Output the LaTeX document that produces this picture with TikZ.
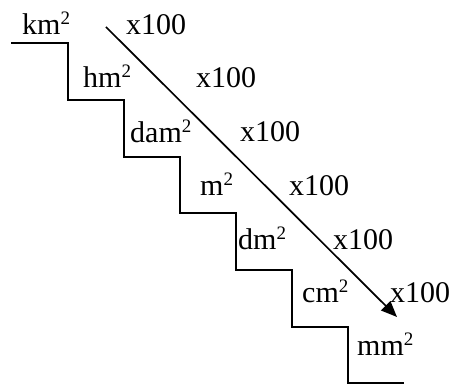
\documentclass[tikz,border=0pt]{standalone}
\usepackage{fontspec}
\setmainfont{Liberation Serif}
\usetikzlibrary{arrows.meta}
\newcommand\sqtwo{\raisebox{10pt}{\fontsize{19}{19}\selectfont 2}}
\begin{document}
\begin{tikzpicture}[x=1pt,y=-1pt,
  lbl/.style={anchor=base west,inner sep=0pt,font=\fontsize{30}{31}\selectfont},
  stair/.style={line width=2pt,line join=miter},
  arr/.style={line width=1.7pt,-{Triangle[length=16pt,width=13pt]}}]
\useasboundingbox (0,0) rectangle (456,387);
\draw[stair] (11,43) -| (68,100) -| (124,157) -| (180,213) -| (236,270) -| (292,327) -| (348,383) -- (404,383);
\node[lbl] (km) at (22,35) {km\sqtwo};
\node[lbl] (hm) at (83,88) {hm\sqtwo};
\node[lbl] (dam) at (130,143) {dam\sqtwo};
\node[lbl] (m) at (200,196) {m\sqtwo};
\node[lbl] (dm) at (238,250) {dm\sqtwo};
\node[lbl] (cm) at (302,303) {cm\sqtwo};
\node[lbl] (mm) at (357,356) {mm\sqtwo};
\node[lbl] (f1) at (126,35) {x100};
\node[lbl] (f2) at (196,88) {x100};
\node[lbl] (f3) at (240,142) {x100};
\node[lbl] (f4) at (289,196) {x100};
\node[lbl] (f5) at (333,250) {x100};
\node[lbl] (f6) at (390,303) {x100};
\coordinate (a0) at (106,27);
\coordinate (a1) at (397,317);
\draw[arr] (a0) -- (a1);
\end{tikzpicture}
\end{document}
